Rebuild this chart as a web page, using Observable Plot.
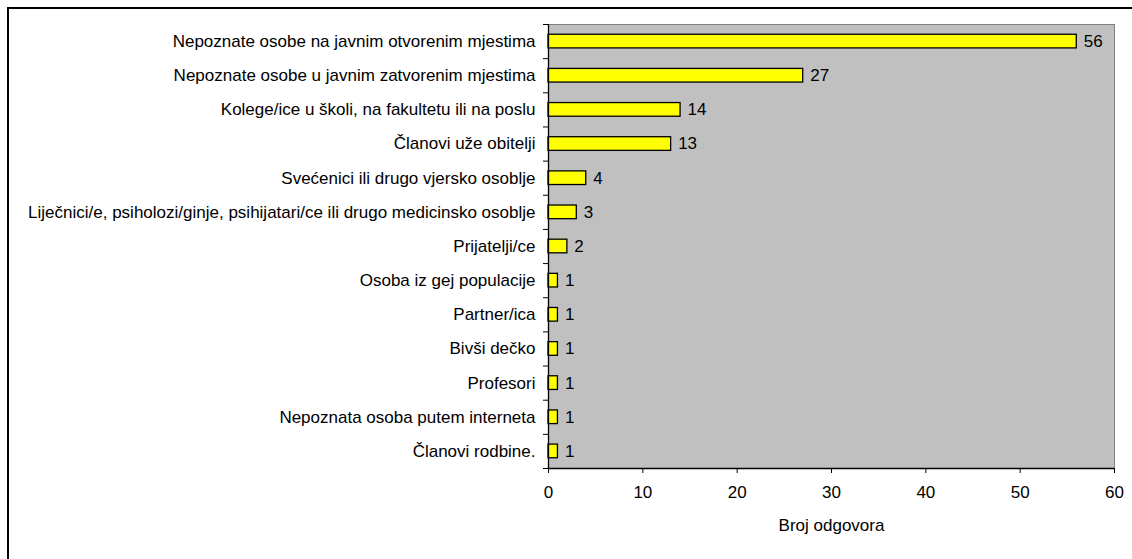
<!DOCTYPE html>
<html>
<head>
<meta charset="utf-8">
<script src="https://cdn.jsdelivr.net/npm/d3@7"></script>
<script src="https://cdn.jsdelivr.net/npm/@observablehq/plot@0.6"></script>
<style>
  html, body { margin: 0; padding: 0; background: #fff; overflow: hidden; }
  #wrap { position: relative; width: 1132px; height: 559px; overflow: hidden; }
  #border { position: absolute; left: 7px; top: 7px; width: 1200px; height: 700px; border: 2px solid #000; box-sizing: border-box; pointer-events: none; }
  #chart { position: absolute; left: 0; top: 0; }
</style>
</head>
<body>
<div id="wrap"><div id="chart"></div><div id="border"></div></div>
<script>
const categories = [
  "Nepoznate osobe na javnim otvorenim mjestima",
  "Nepoznate osobe u javnim zatvorenim mjestima",
  "Kolege/ice u školi, na fakultetu ili na poslu",
  "Članovi uže obitelji",
  "Svećenici ili drugo vjersko osoblje",
  "Liječnici/e, psiholozi/ginje, psihijatari/ce ili drugo medicinsko osoblje",
  "Prijatelji/ce",
  "Osoba iz gej populacije",
  "Partner/ica",
  "Bivši dečko",
  "Profesori",
  "Nepoznata osoba putem interneta",
  "Članovi rodbine."
];
const values = [56, 27, 14, 13, 4, 3, 2, 1, 1, 1, 1, 1, 1];
const xTicks = [0, 10, 20, 30, 40, 50, 60];
const xLabel = "Broj odgovora";

const data = categories.map((name, i) => ({name, value: values[i], i}));
const idx = categories.map((_, i) => i);
const bounds = [...idx.map(i => i - 0.5), categories.length - 0.5];

const chart = Plot.plot({
  width: 1132,
  height: 559,
  marginLeft: 548,
  marginRight: 18,
  marginTop: 24,
  marginBottom: 91,
  style: {fontFamily: "'Liberation Sans', Arial, sans-serif", fontSize: "17px", color: "#000", background: "transparent"},
  x: {domain: [0, 60]},
  y: {domain: [-0.5, categories.length - 0.5], reverse: true},
  marks: [
    Plot.frame({fill: "#c0c0c0", stroke: "#808080"}),
    Plot.rectX(data, {x: "value", y1: d => d.i - 0.2, y2: d => d.i + 0.2, fill: "#ffff00", stroke: "#000", strokeWidth: 1.3}),
    Plot.text(data, {x: "value", y: "i", text: d => String(d.value), textAnchor: "start", dx: 7, fill: "#000"}),
    Plot.ruleX([0], {stroke: "#000", strokeWidth: 1.3}),
    Plot.ruleY([categories.length - 0.5], {stroke: "#000", strokeWidth: 1.3}),
    Plot.axisY({ticks: idx, tickFormat: i => categories[i], tickSize: 0, tickPadding: 13, label: null}),
    Plot.axisY({ticks: bounds, tickFormat: () => "", tickSize: 5, label: null, stroke: "#000"}),
    Plot.axisX({ticks: xTicks, tickSize: 5, tickPadding: 12, label: xLabel, labelAnchor: "center", labelArrow: "none", labelOffset: 62, stroke: "#000"})
  ]
});
document.getElementById("chart").appendChild(chart);
</script>
</body>
</html>
